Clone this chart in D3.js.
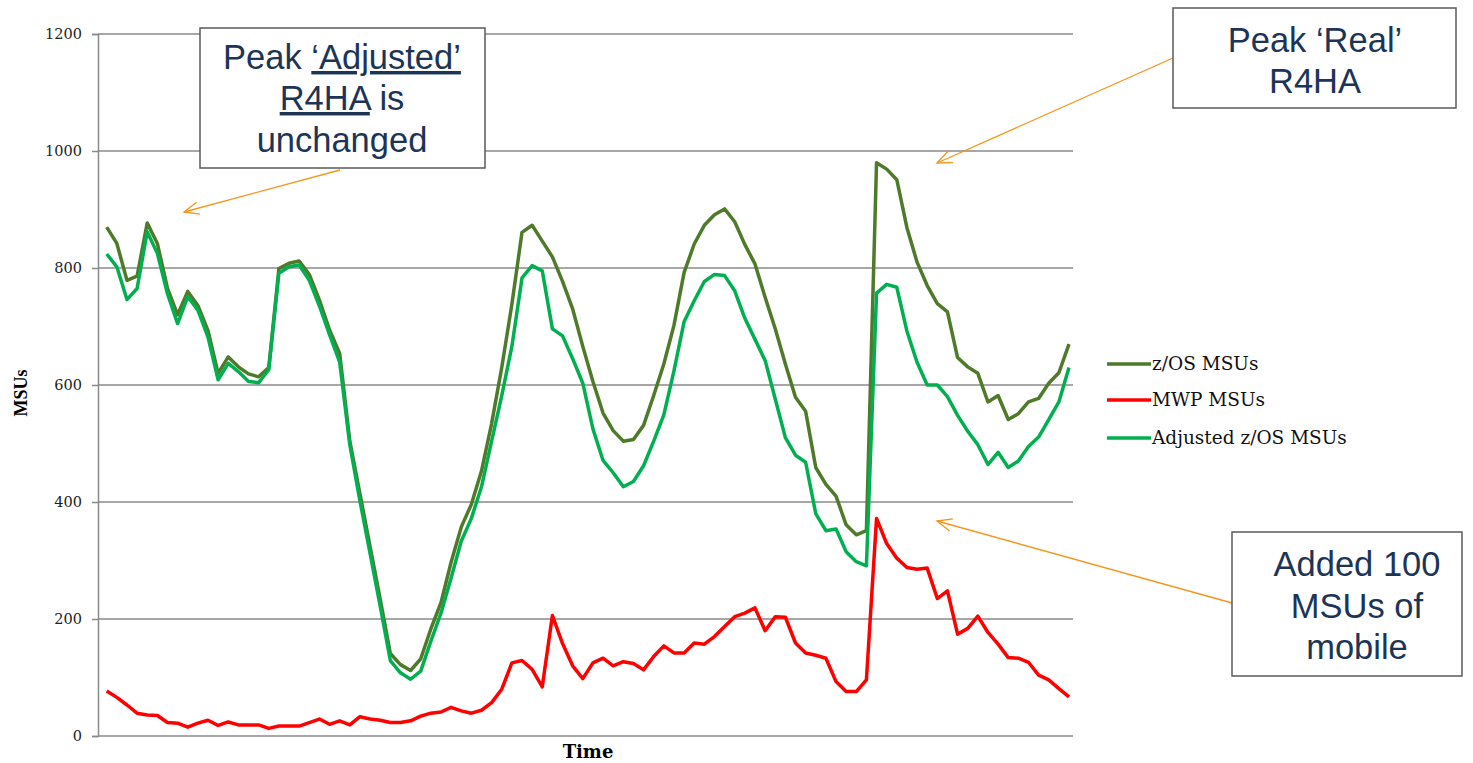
<!DOCTYPE html>
<html>
<head>
<meta charset="utf-8">
<script src="https://cdn.jsdelivr.net/npm/d3@7"></script>
<style>
  html, body { margin: 0; padding: 0; background: #fff; }
  svg { display: block; }
</style>
</head>
<body>
<svg id="chart" width="1473" height="763"></svg>
<script>
// ---- data ----
const seriesNames = ["z/OS MSUs", "MWP MSUs", "Adjusted z/OS MSUs"];
const yTicks = [0, 200, 400, 600, 800, 1000, 1200];

const zosMSUs = [870,842,779,786,877,842,765,720,760,736,693,620,648,631,619,614,630,799,808,812,789,
  745,694,654,
  504,414,324,234,141,122,112,132,183,228,297,357,396,453,534,630,738,861,873,846,819,777,
  730,666,606,552,522,504,507,531,582,636,702,792,841,873,891,901,879,840,807,750,696,636,579,555,
  459,430,410,361,344,351,980,969,951,869,810,770,739,725,647,631,620,571,582,541,551,571,577,603,621,670];

const mwpMSUs = [77,66,53,39,36,35,23,22,15,22,27,18,24,19,19,19,13,17,17,17,23,29,20,26,
  19,33,29,27,23,
  23,26,34,39,41,49,43,39,44,57,80,125,129,114,84,206,158,120,98,125,133,120,127,124,113,136,154,142,142,
  159,157,170,187,204,210,219,180,204,203,159,142,138,133,93,76,76,96,372,329,304,288,285,287,235,248,
  174,184,205,177,157,134,133,126,104,96,81,67];

const adjustedMSUs = [824,802,746,765,862,825,756,705,751,728,682,609,637,623,606,604,626,791,802,805,779,
  735,686,639,
  498,402,312,222,129,108,97,111,162,210,270,333,372,426,504,582,666,783,804,795,696,684,
  645,603,525,471,450,426,435,462,504,549,624,708,744,777,789,787,761,714,678,642,576,510,480,468,
  380,351,354,315,298,291,757,772,767,692,639,600,600,580,548,521,498,464,485,459,470,495,511,541,571,630];

const timeIndex = d3.range(zosMSUs.length);

// ---- layout ----
const svg = d3.select("#chart");
const serif = "'DejaVu Serif', 'Liberation Serif', serif";
const serif2 = "'Liberation Serif', 'DejaVu Serif', serif";
const sans = "'Liberation Sans', Arial, sans-serif";
const colors = ["#4e7a2a", "#ff0000", "#00b050"];

const x = d3.scalePoint().domain(timeIndex).range([106.7, 1069]);
const y = d3.scaleLinear().domain([0, 1200]).range([736, 34]);
const plotLeft = 98, plotRight = 1073;

// gridlines
svg.append("g")
  .selectAll("line").data(yTicks).join("line")
  .attr("x1", plotLeft).attr("x2", plotRight)
  .attr("y1", d => y(d)).attr("y2", d => y(d))
  .attr("stroke", "#8a8a8a").attr("stroke-width", 1.5);

// y axis
const yAxis = svg.append("g")
  .attr("transform", `translate(${plotLeft},0)`)
  .call(d3.axisLeft(y).tickValues(yTicks).tickSize(6).tickPadding(10).tickFormat(d3.format("d")));
yAxis.select(".domain").attr("stroke", "#8a8a8a").attr("stroke-width", 1.5);
yAxis.selectAll(".tick line").attr("stroke", "#8a8a8a").attr("stroke-width", 1.5);
yAxis.selectAll(".tick text").attr("font-family", serif).attr("font-size", 14.5).attr("fill", "#222");

// axis titles
svg.append("text")
  .attr("transform", "translate(27,393) rotate(-90)")
  .attr("text-anchor", "middle")
  .attr("font-family", serif2).attr("font-weight", "bold").attr("font-size", 18)
  .text("MSUs");
svg.append("text")
  .attr("x", 588).attr("y", 758)
  .attr("text-anchor", "middle")
  .attr("font-family", serif).attr("font-weight", "bold").attr("font-size", 18)
  .text("Time");

// lines
const data = [zosMSUs, mwpMSUs, adjustedMSUs];
const line = d3.line().x((d, i) => x(i)).y(d => y(d));
svg.append("g").selectAll("path").data(data).join("path")
  .attr("d", d => line(d))
  .attr("fill", "none")
  .attr("stroke", (d, i) => colors[i])
  .attr("stroke-width", 3.5)
  .attr("stroke-linejoin", "round");

// legend
const legendY = [364, 400, 438];
const lg = svg.append("g").selectAll("g").data(seriesNames).join("g")
  .attr("transform", (d, i) => `translate(1107,${legendY[i]})`);
lg.append("line").attr("x1", 0).attr("x2", 44).attr("y1", 0).attr("y2", 0)
  .attr("stroke", (d, i) => colors[i]).attr("stroke-width", 3.5);
lg.append("text").attr("x", 45).attr("y", 6)
  .attr("font-family", serif).attr("font-size", 18.5).attr("fill", "#111")
  .text(d => d);

// annotations
const navy = "#1c3557";
const orange = "#f7941d";
function box(x0, y0, w, h) {
  svg.append("rect").attr("x", x0).attr("y", y0).attr("width", w).attr("height", h)
    .attr("fill", "#fff").attr("stroke", "#595959").attr("stroke-width", 1.5);
}
function arrow(x1, y1, x2, y2) {
  svg.append("line").attr("x1", x1).attr("y1", y1).attr("x2", x2).attr("y2", y2)
    .attr("stroke", orange).attr("stroke-width", 1.3);
  const a = Math.atan2(y1 - y2, x1 - x2), L = 16, s = 0.4;
  const p = [[x2 + L*Math.cos(a + s), y2 + L*Math.sin(a + s)], [x2, y2], [x2 + L*Math.cos(a - s), y2 + L*Math.sin(a - s)]];
  svg.append("path").attr("d", d3.line()(p)).attr("fill", "none")
    .attr("stroke", orange).attr("stroke-width", 1.3);
}

arrow(340, 170, 184, 212);
arrow(1173, 58, 937, 163);
arrow(1232, 603, 937, 521);

const fs = 34.5;
box(200, 28, 285, 140);
const t1 = svg.append("text").attr("font-family", sans).attr("font-size", fs).attr("fill", navy).attr("text-anchor", "middle");
const l1 = t1.append("tspan").attr("x", 342).attr("y", 69);
l1.append("tspan").text("Peak ");
l1.append("tspan").attr("text-decoration", "underline").text("‘Adjusted’");
const l2 = t1.append("tspan").attr("x", 342).attr("y", 110);
l2.append("tspan").attr("text-decoration", "underline").text("R4HA");
l2.append("tspan").text(" is");
t1.append("tspan").attr("x", 342).attr("y", 152).text("unchanged");

box(1173, 8, 283, 100);
const t2 = svg.append("text").attr("font-family", sans).attr("font-size", fs).attr("fill", navy).attr("text-anchor", "middle");
t2.append("tspan").attr("x", 1315).attr("y", 52).text("Peak ‘Real’");
t2.append("tspan").attr("x", 1315).attr("y", 93).text("R4HA");

box(1232, 532, 230, 144);
const t3 = svg.append("text").attr("font-family", sans).attr("font-size", fs).attr("fill", navy).attr("text-anchor", "middle");
t3.append("tspan").attr("x", 1357).attr("y", 576).text("Added 100");
t3.append("tspan").attr("x", 1357).attr("y", 618).text("MSUs of");
t3.append("tspan").attr("x", 1357).attr("y", 659).text("mobile");
</script>
</body>
</html>
